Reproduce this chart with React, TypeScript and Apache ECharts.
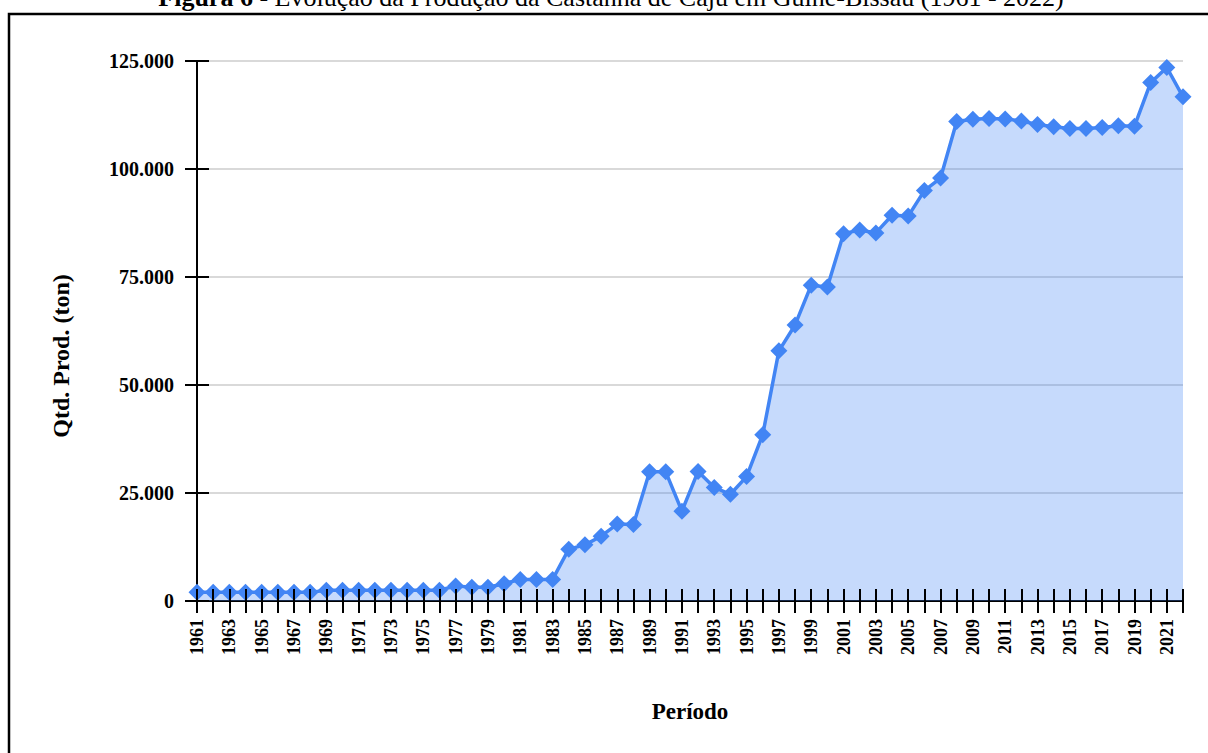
import React, { useEffect, useRef } from "react";
import * as echarts from "echarts";

const years: string[] = [];
for (let y = 1961; y <= 2022; y++) years.push(String(y));

const production: number[] = [
  // 1961-1970
  2000, 2000, 2000, 2000, 2000, 2000, 2000, 2000, 2500, 2500,
  // 1971-1980
  2500, 2500, 2500, 2500, 2500, 2500, 3500, 3200, 3200, 4000,
  // 1981-1990
  5000, 5000, 5000, 12000, 13000, 15000, 17800, 17700, 29900, 29900,
  // 1991-2000
  20800, 30000, 26300, 24700, 28800, 38500, 57900, 63900, 73100, 72700,
  // 2001-2010
  85000, 85900, 85200, 89300, 89100, 95000, 97900, 111000, 111500, 111700,
  // 2011-2020
  111600, 111100, 110300, 109800, 109400, 109400, 109600, 110000, 109900, 120000,
  // 2021-2022
  123500, 116700,
];

const yTicks: number[] = [0, 25000, 50000, 75000, 100000, 125000];

const titleBold = "Figura 6 -";
const titleRest = " Evolução da Produção da Castanha de Caju em Guiné-Bissau (1961 - 2022)";
const yName = "Qtd. Prod. (ton)";
const xName = "Período";

const FONT = "'Liberation Serif', 'DejaVu Serif', serif";

function fmt(v: number): string {
  return String(v).replace(/\B(?=(\d{3})+(?!\d))/g, ".");
}

export default function App() {
  const ref = useRef<HTMLDivElement>(null);
  useEffect(() => {
    if (!ref.current) return;
    const chart = echarts.init(ref.current, undefined, { renderer: "svg" });
    const yMax = yTicks[yTicks.length - 1];
    const yInterval = yTicks[1] - yTicks[0];
    chart.setOption({
      animation: false,
      backgroundColor: "#ffffff",
      grid: { left: 197, right: 25, top: 61, bottom: 152, containLabel: false },
      graphic: [
        {
          type: "rect",
          shape: { x: 9, y: 14, width: 1300, height: 900 },
          style: { fill: "none", stroke: "#000", lineWidth: 2.5 },
          silent: true,
        },
        {
          type: "text",
          x: 611,
          y: -3,
          style: {
            text: "{b|" + titleBold + "}{r|" + titleRest + "}",
            align: "center",
            verticalAlign: "middle",
            rich: {
              b: { fontFamily: FONT, fontWeight: "bold", fontSize: 26, fill: "#000" },
              r: { fontFamily: FONT, fontWeight: "normal", fontSize: 26, fill: "#000" },
            },
          },
          silent: true,
        },
        {
          type: "text",
          x: 61,
          y: 356,
          rotation: Math.PI / 2,
          style: {
            text: yName,
            align: "center",
            verticalAlign: "middle",
            fontFamily: FONT,
            fontWeight: "bold",
            fontSize: 24,
            fill: "#000",
          },
          silent: true,
        },
      ],
      xAxis: [
        {
          type: "category",
          data: years,
          boundaryGap: false,
          position: "bottom",
          name: xName,
          nameLocation: "middle",
          nameGap: 99,
          nameTextStyle: { fontFamily: FONT, fontWeight: "bold", fontSize: 23, color: "#000" },
          axisLine: { show: true, lineStyle: { color: "#000", width: 2 } },
          axisTick: { show: true, interval: 0, length: 12, lineStyle: { color: "#000", width: 2 } },
          axisLabel: {
            interval: 1,
            rotate: 90,
            margin: 18,
            fontFamily: FONT,
            fontWeight: "bold",
            fontSize: 18,
            color: "#000",
          },
          splitLine: { show: false },
        },
        {
          type: "category",
          data: years,
          boundaryGap: false,
          position: "bottom",
          z: 5,
          axisLine: { show: false },
          axisTick: { show: true, inside: true, interval: 0, length: 12, lineStyle: { color: "#000", width: 2 } },
          axisLabel: { show: false },
          splitLine: { show: false },
        },
      ],
      yAxis: [
        {
          type: "value",
          min: 0,
          max: yMax,
          interval: yInterval,
          position: "left",
          axisLine: { show: true, lineStyle: { color: "#000", width: 2 } },
          axisTick: { show: true, length: 12, lineStyle: { color: "#000", width: 2 } },
          axisLabel: {
            margin: 23,
            fontFamily: FONT,
            fontWeight: "bold",
            fontSize: 20,
            color: "#000",
            formatter: (v: number) => fmt(v),
          },
          splitLine: { show: true, lineStyle: { color: "#cccccc", width: 1.5 } },
        },
        {
          type: "value",
          min: 0,
          max: yMax,
          interval: yInterval,
          position: "left",
          z: 5,
          axisLine: { show: false },
          axisTick: { show: true, inside: true, length: 12, lineStyle: { color: "#000", width: 2 } },
          axisLabel: { show: false },
          splitLine: { show: false },
        },
      ],
      series: [
        {
          type: "line",
          data: production,
          xAxisIndex: 0,
          yAxisIndex: 0,
          symbol: "diamond",
          symbolSize: 17,
          showAllSymbol: true,
          clip: true,
          lineStyle: { color: "#4285f4", width: 3.5 },
          itemStyle: { color: "#4285f4" },
          areaStyle: { color: "#4285f4", opacity: 0.3 },
        },
      ],
    });
    return () => chart.dispose();
  }, []);
  return (
    <div
      ref={ref}
      style={{ position: "fixed", left: 0, top: 0, width: 1208, height: 753, background: "#fff" }}
    />
  );
}
